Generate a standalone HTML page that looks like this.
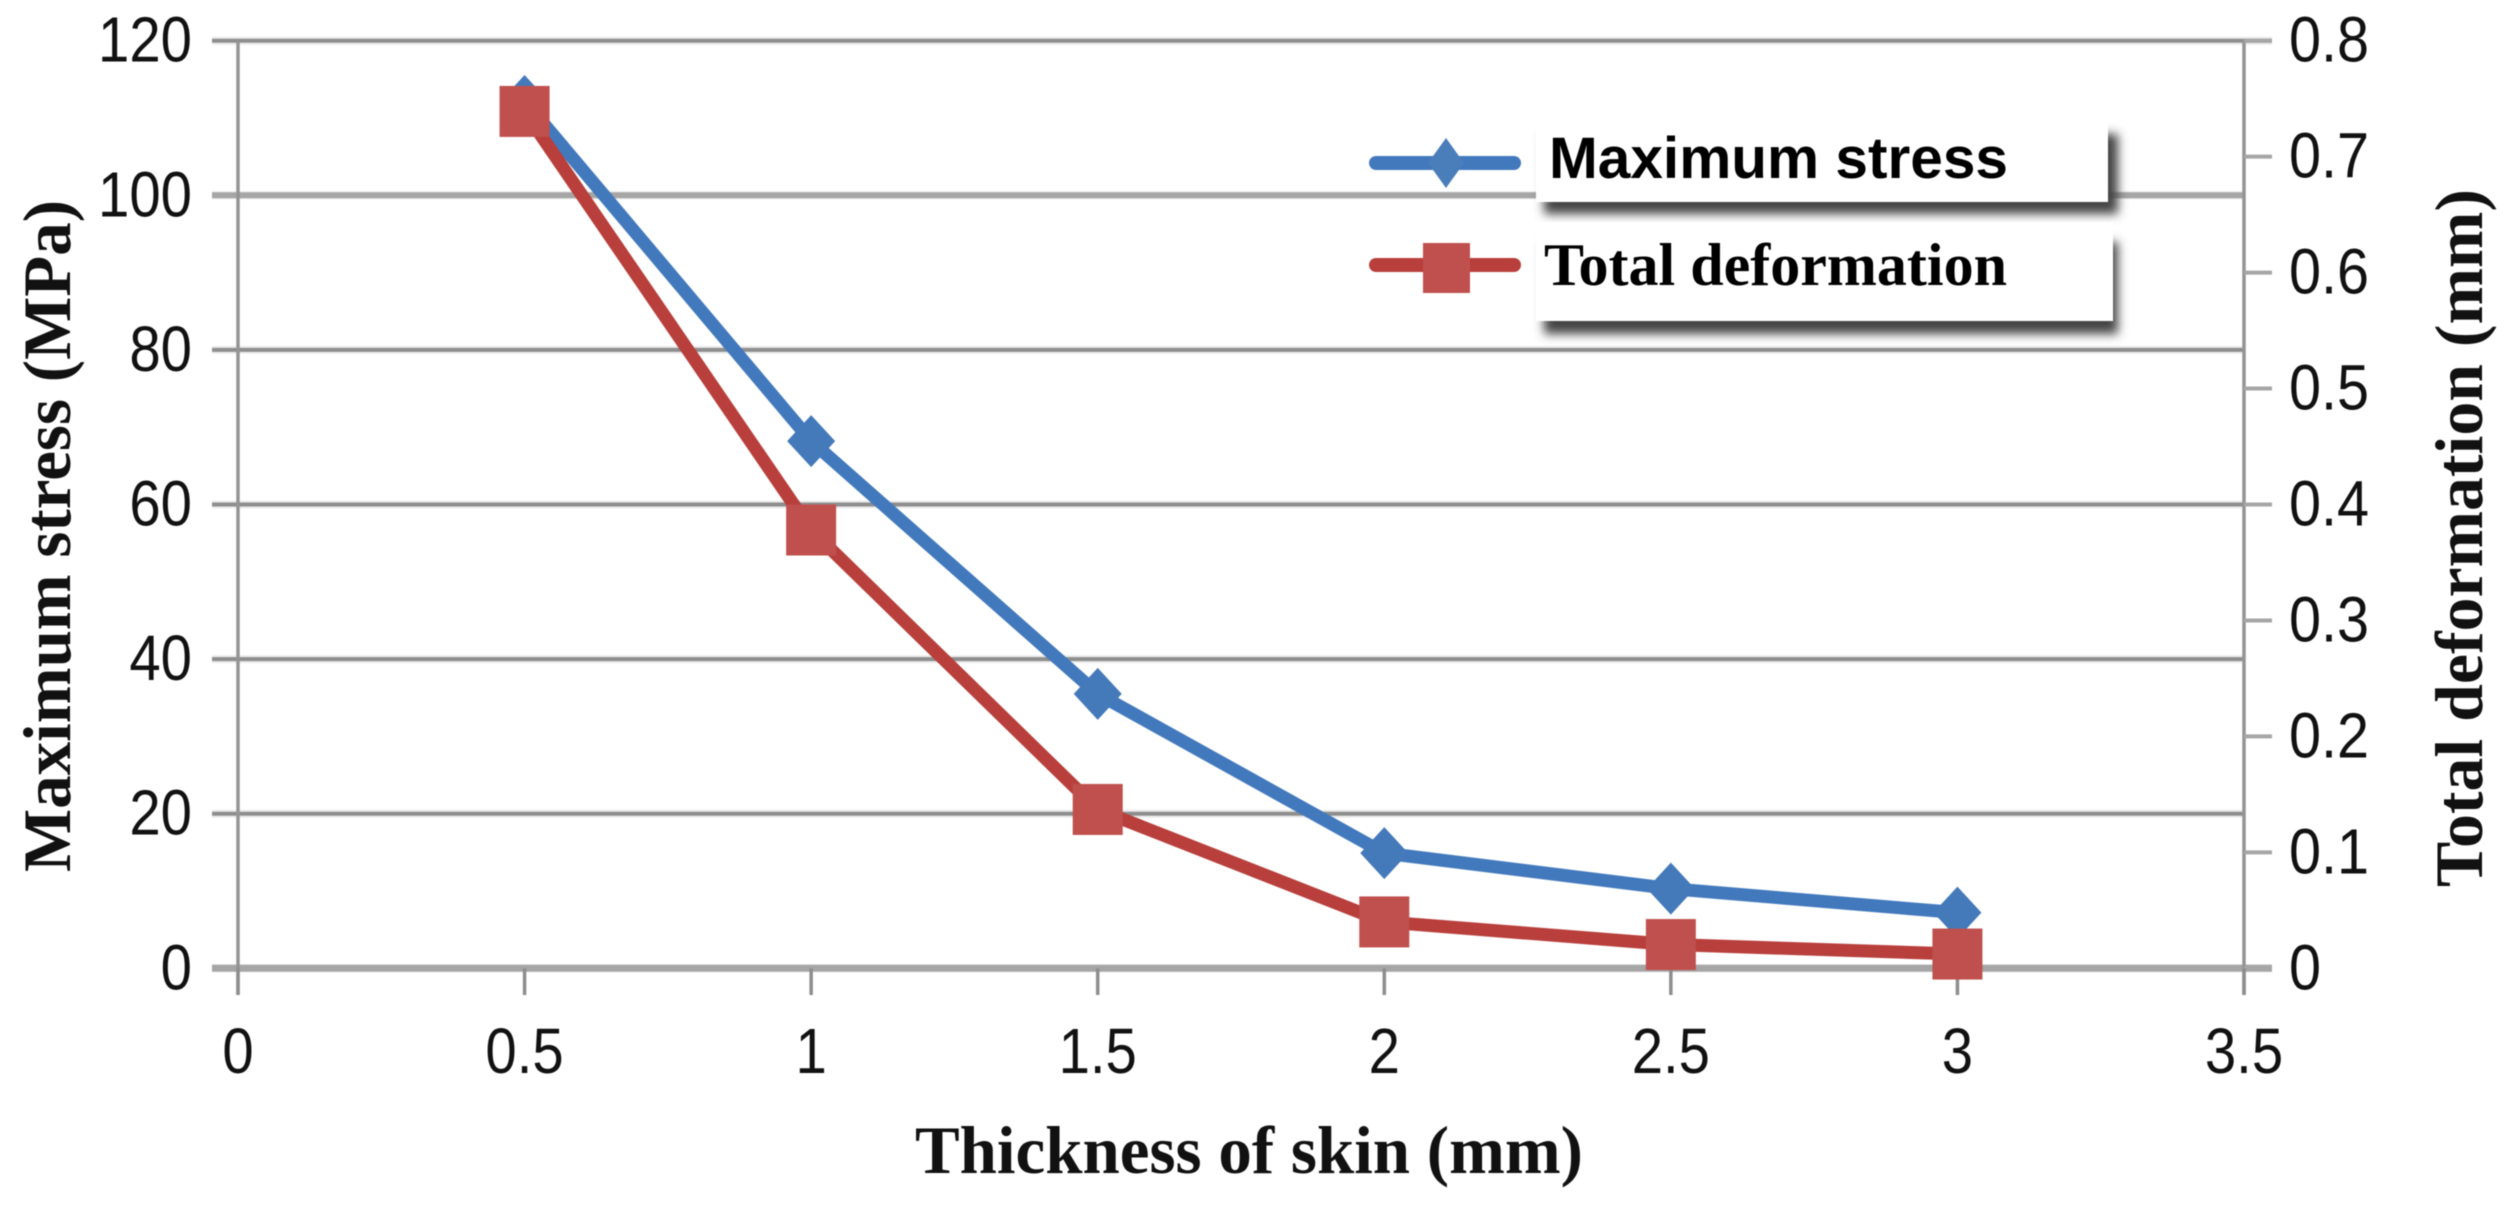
<!DOCTYPE html>
<html lang="en">
<head>
<meta charset="utf-8">
<title>Maximum stress and total deformation vs thickness of skin</title>
<style>
  html, body { margin: 0; padding: 0; background: #fff; }
  svg { display: block; filter: blur(0.6px); }
  .tick { font-family: "Liberation Sans", sans-serif; font-size: 64px; fill: #111; }
  .title { font-family: "Liberation Serif", serif; font-weight: bold; font-size: 68px; fill: #111; }
</style>
</head>
<body>
<svg id="chart" width="2510" height="1208" viewBox="0 0 2510 1208" xmlns="http://www.w3.org/2000/svg">
  <defs>
    <filter id="legend-shadow-blur" x="-5%" y="-30%" width="110%" height="160%">
      <feGaussianBlur stdDeviation="5"></feGaussianBlur>
    </filter>
  </defs>
  <g id="grid-layer"></g>
  <g id="axis-layer"></g>
  <g id="series-layer"></g>

  <g>
    <rect x="1544" y="134" width="574" height="80" fill="#444" filter="url(#legend-shadow-blur)"></rect>
    <rect x="1536" y="120" width="572" height="82" fill="#fff"></rect>
    <rect x="1544" y="242" width="574" height="92" fill="#444" filter="url(#legend-shadow-blur)"></rect>
    <rect x="1536" y="222" width="577" height="99" fill="#fff"></rect>
    <line x1="1376" y1="163" x2="1514" y2="163" stroke="#4279bd" stroke-width="14" stroke-linecap="round"></line>
    <polygon points="1446,138 1464,163 1446,188 1428,163" fill="#4a7ebb"></polygon>
    <text x="1549" y="178" font-family="'Liberation Sans', sans-serif" font-weight="bold" font-size="58" fill="#000" textLength="459" lengthAdjust="spacingAndGlyphs">Maximum stress</text>
    <line x1="1376" y1="265" x2="1514" y2="265" stroke="#b83f3b" stroke-width="14" stroke-linecap="round"></line>
    <rect x="1423" y="243" width="47" height="50" fill="#c0504d"></rect>
    <text x="1544" y="285" font-family="'Liberation Serif', serif" font-weight="bold" font-size="60" fill="#000" textLength="463" lengthAdjust="spacingAndGlyphs">Total deformation</text>
  </g>

  <text class="title" transform="translate(70,872) rotate(-90)" textLength="672" lengthAdjust="spacingAndGlyphs">Maximum stress (MPa)</text>
  <text class="title" transform="translate(2482,887) rotate(-90)" textLength="698" lengthAdjust="spacingAndGlyphs">Total deformation (mm)</text>
  <text class="title" x="915" y="1173" textLength="668" lengthAdjust="spacingAndGlyphs">Thickness of skin (mm)</text>
</svg>
<script>
const thicknessValues = [0.5, 1, 1.5, 2, 2.5, 3];
const maximumStress = [112.2, 68.2, 35.5, 14.9, 10.3, 7.2];
const totalDeformation = [0.739, 0.378, 0.137, 0.04, 0.0205, 0.0123];
const xTickValues = [0, 0.5, 1, 1.5, 2, 2.5, 3, 3.5];
const leftTickValues = [0, 20, 40, 60, 80, 100, 120];
const rightTickValues = [0, 0.1, 0.2, 0.3, 0.4, 0.5, 0.6, 0.7, 0.8];

const SVG_NS = 'http://www.w3.org/2000/svg';
const plotLeft = 238, plotRight = 2244, plotTop = 40.7, plotBottom = 968.3;
const xMax = 3.5, leftMax = 120, rightMax = 0.8;

function xScale(v) { return plotLeft + (v / xMax) * (plotRight - plotLeft); }
function yLeft(v) { return plotBottom - (v / leftMax) * (plotBottom - plotTop); }
function yRight(v) { return plotBottom - (v / rightMax) * (plotBottom - plotTop); }

function make(tag, parent, attrs) {
  const el = document.createElementNS(SVG_NS, tag);
  Object.keys(attrs).forEach(function (k) { el.setAttribute(k, attrs[k]); });
  parent.appendChild(el);
  return el;
}

const gridLayer = document.getElementById('grid-layer');
const axisLayer = document.getElementById('axis-layer');
const seriesLayer = document.getElementById('series-layer');

leftTickValues.forEach(function (v, i) {
  const y = yLeft(v);
  const isBase = v === 0;
  const isHeavy = v === 100;
  const isEdge = i === 0 || i === leftTickValues.length - 1;
  const gridEnd = isEdge ? 2272 : plotRight;
  const halo = make('line', gridLayer, { x1: 212, x2: gridEnd, y1: y, y2: y, stroke: '#ececec', 'stroke-width': 8 });
  
  
  const line = make('line', gridLayer, {
    x1: 212, x2: gridEnd, y1: y, y2: y,
    stroke: isBase || isHeavy ? '#a6a6a6' : '#8e8e8e',
    'stroke-width': isBase ? 7 : (isHeavy ? 6 : 4)
  });
  
  
  const label = make('text', axisLayer, { class: 'tick', 'text-anchor': 'end', transform: 'translate(192,' + (y + 21) + ') scale(0.88,1)' });
  label.textContent = String(v);
  
  
});

const leftAxis = make('line', axisLayer, { x1: plotLeft, x2: plotLeft, y1: plotTop, y2: 995, stroke: '#949494', 'stroke-width': 3.5 });



const rightAxis = make('line', axisLayer, { x1: plotRight, x2: plotRight, y1: plotTop, y2: 995, stroke: '#949494', 'stroke-width': 3.5 });



rightTickValues.forEach(function (v) {
  const y = yRight(v);
  const tick = make('line', axisLayer, { x1: plotRight, x2: 2272, y1: y, y2: y, stroke: '#a6a6a6', 'stroke-width': 4 });
  
  
  const label = make('text', axisLayer, { class: 'tick', transform: 'translate(2289,' + (y + 21) + ') scale(0.9,1)' });
  label.textContent = String(v);
  
  
});

xTickValues.forEach(function (v) {
  const x = xScale(v);
  const tick = make('line', axisLayer, { x1: x, x2: x, y1: plotBottom, y2: 995, stroke: '#8e8e8e', 'stroke-width': 3.5 });
  
  
  const label = make('text', axisLayer, { class: 'tick', 'text-anchor': 'middle', transform: 'translate(' + x + ',1073) scale(0.88,1)' });
  label.textContent = String(v);
  
  
});

function pointList(values, yFn) {
  return values.map(function (v, i) { return xScale(thicknessValues[i]) + ',' + yFn(v); }).join(' ');
}

const stressLine = make('polyline', seriesLayer, { points: pointList(maximumStress, yLeft), fill: 'none', stroke: '#4279bd', 'stroke-width': 13, 'stroke-linejoin': 'round' });



maximumStress.forEach(function (v, i) {
  const x = xScale(thicknessValues[i]);
  const y = yLeft(v);
  const pts = [[x, y - 26], [x + 24, y], [x, y + 26], [x - 24, y]].map(function (p) { return p.join(','); }).join(' ');
  const marker = make('polygon', seriesLayer, { points: pts, fill: '#4479ba' });
  
  
});

const deformationLine = make('polyline', seriesLayer, { points: pointList(totalDeformation, yRight), fill: 'none', stroke: '#b83f3b', 'stroke-width': 13, 'stroke-linejoin': 'round' });



totalDeformation.forEach(function (v, i) {
  const x = xScale(thicknessValues[i]);
  const y = yRight(v);
  const marker = make('rect', seriesLayer, { x: x - 25, y: y - 25.5, width: 50, height: 51, fill: '#bf504d' });
  
  
});
</script>
</body>
</html>
